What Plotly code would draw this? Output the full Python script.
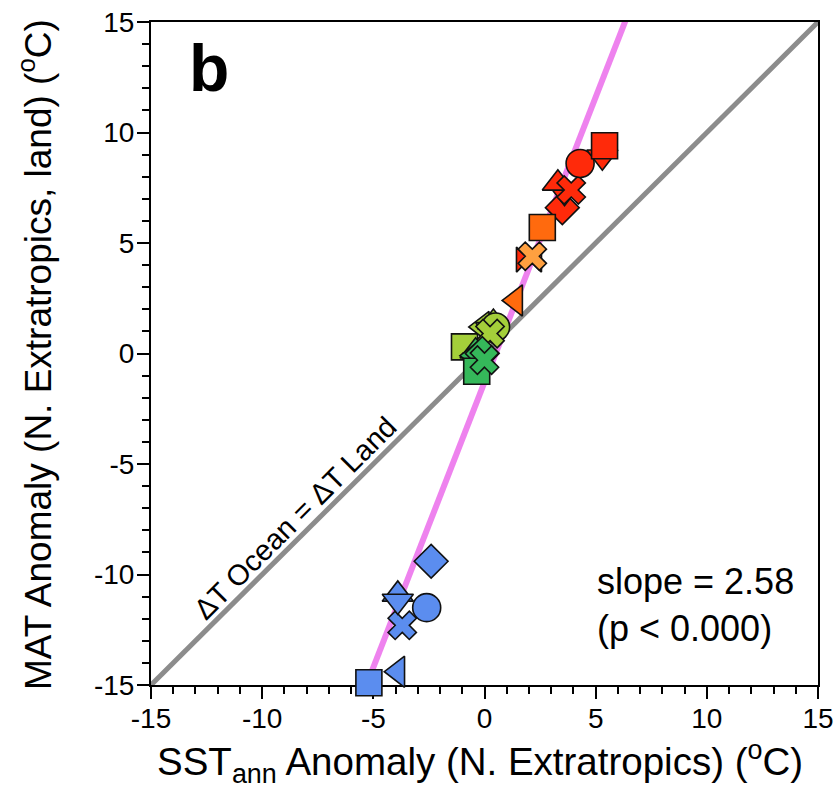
import plotly.graph_objects as go

# ---------------- data ----------------
tick_vals = [-15, -10, -5, 0, 5, 10, 15]
tick_text = ["-15", "-10", "-5", "0", "5", "10", "15"]

blue_x = [-5.2, -3.9, -3.7, -2.6, -3.9, -3.9, -2.4]
blue_y = [-14.9, -14.4, -12.3, -11.5, -10.9, -11.2, -9.4]
blue_sym = ["square", "triangle-left", "x", "circle", "triangle-up", "triangle-down", "diamond"]

lgreen_x = [-0.9, -0.1, 0.4, 0.3, 0.5, 0.25]
lgreen_y = [0.3, 1.2, 1.4, 1.1, 1.2, 0.9]
lgreen_sym = ["square", "triangle-left", "triangle-up", "triangle-down", "circle", "x"]

green_x = [-0.4, -0.3, -0.5, -0.1, -0.35, 0.0]
green_y = [0.1, -0.3, -0.1, 0.0, -0.8, -0.3]
green_sym = ["triangle-up", "triangle-down", "triangle-left", "diamond", "square", "x"]

red_x = [2.0, 3.5, 3.6, 3.3, 3.9, 4.3, 5.3, 5.4]
red_y = [4.25, 6.6, 7.3, 7.7, 7.4, 8.6, 8.9, 9.4]
red_sym = ["bowtie", "diamond", "triangle-down", "triangle-up", "x", "circle", "triangle-down", "square"]

orange_x = [1.4, 2.6]
orange_y = [2.4, 5.7]
orange_sym = ["triangle-left", "square"]

lorange_x = [2.15]
lorange_y = [4.4]
lorange_sym = ["x"]

one_to_one = [-15, 15]
slope = 2.58
intercept = -1.3

# ---------------- figure ----------------
fig = go.Figure()

reg_x = [-15, 15]
reg_y = [slope * v + intercept for v in reg_x]
fig.add_trace(go.Scatter(x=reg_x, y=reg_y, mode="lines",
                         line=dict(color="#ee82ee", width=6), hoverinfo="skip"))
fig.add_trace(go.Scatter(x=one_to_one, y=one_to_one, mode="lines",
                         line=dict(color="#8c8c8c", width=5), hoverinfo="skip"))

def add_group(xs, ys, syms, color):
    sizes = []
    for s in syms:
        if s in ("x", "bowtie"):
            sizes.append(25)
        elif s.startswith("triangle"):
            sizes.append(27)
        elif s == "circle":
            sizes.append(28)
        else:
            sizes.append(26)
    fig.add_trace(go.Scatter(
        x=xs, y=ys, mode="markers", cliponaxis=False,
        marker=dict(symbol=syms, size=sizes, color=color, opacity=1,
                    line=dict(color="#111111", width=1.6)),
    ))

add_group(blue_x, blue_y, blue_sym, "#5b8def")
add_group(lgreen_x, lgreen_y, lgreen_sym, "#a4cf3a")
add_group(green_x, green_y, green_sym, "#35b85a")
add_group(red_x, red_y, red_sym, "#ff2a0a")
add_group(orange_x, orange_y, orange_sym, "#ff6a0e")
add_group(lorange_x, lorange_y, lorange_sym, "#ffa040")

FONT = "Liberation Sans, Arial, sans-serif"

axis_common = dict(
    range=[-15, 15], tickmode="array", tickvals=tick_vals, ticktext=tick_text,
    showline=True, linecolor="black", linewidth=2, mirror=True,
    ticks="outside", ticklen=12, tickwidth=2, tickcolor="black",
    minor=dict(ticks="outside", ticklen=7, tickwidth=2, tickcolor="black", dtick=1, tick0=0),
    showgrid=False, zeroline=False, layer="below traces", automargin=False,
    tickfont=dict(family=FONT, size=28, color="black"),
)

fig.update_layout(
    width=835, height=800,
    margin=dict(l=151, r=17, t=22, b=115, autoexpand=False),
    paper_bgcolor="white", plot_bgcolor="white",
    showlegend=False,
    xaxis=dict(**axis_common, ticklabelstandoff=-5),
    yaxis=dict(**axis_common, ticklabelstandoff=-3),
    font=dict(family=FONT, color="black"),
)

fig.add_annotation(xref="paper", yref="paper", x=0.493, y=-0.116,
                   text="SST<sub>ann</sub> Anomaly (N. Extratropics) (<sup>o</sup>C)",
                   showarrow=False, font=dict(family=FONT, size=38.5, color="black"),
                   xanchor="center", yanchor="middle")
fig.add_annotation(xref="paper", yref="paper", x=-0.172, y=0.498,
                   text="MAT Anomaly (N. Extratropics, land) (<sup>o</sup>C)",
                   showarrow=False, textangle=-90,
                   font=dict(family=FONT, size=37, color="black"),
                   xanchor="center", yanchor="middle")
fig.add_annotation(xref="paper", yref="paper", x=0.087, y=0.931,
                   text="<b>b</b>", showarrow=False,
                   font=dict(family=FONT, size=66, color="black"),
                   xanchor="center", yanchor="middle")
fig.add_annotation(x=4.97, y=-11.38, text="slope = 2.58<br>(p < 0.000)",
                   showarrow=False, align="left", xanchor="left", yanchor="middle",
                   font=dict(family=FONT, size=36, color="black"))
fig.add_annotation(x=-8.52, y=-7.44, text="ΔT Ocean = ΔT Land",
                   showarrow=False, textangle=-45,
                   font=dict(family=FONT, size=29, color="black"),
                   xanchor="center", yanchor="middle")

fig.write_html("out.html")
